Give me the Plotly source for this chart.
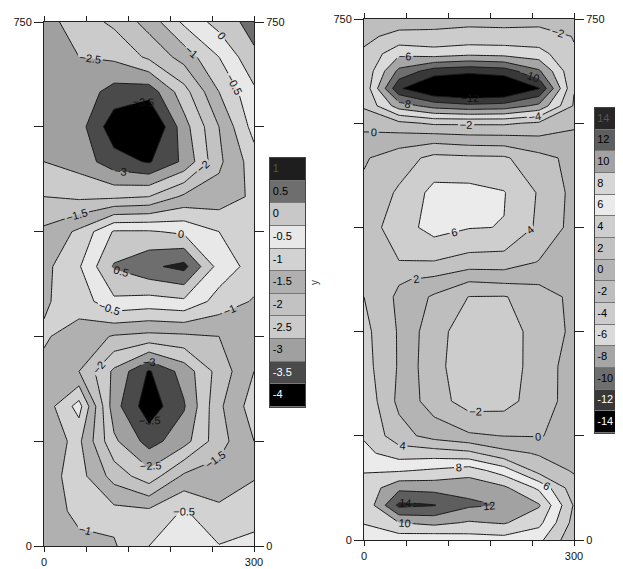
import plotly.graph_objects as go

# ---------------- data: left panel ----------------
x_left = [0, 50, 100, 150, 200, 250, 300]
y_left = [0, 50, 100, 150, 200, 250, 300, 350, 400, 450, 500, 550, 600, 650, 700, 750]
z_left = [
    [-1.10, -1.05, -1.05, -0.50, -0.20, -0.48, -0.40],   # y=0
    [-1.10, -0.95, -0.85, -0.90, -0.45, -0.90, -0.65],   # 50
    [-1.20, -0.80, -1.70, -2.30, -1.40, -1.30, -1.05],   # 100
    [-1.20, -0.90, -2.40, -3.20, -2.70, -1.70, -1.00],   # 150
    [-1.30, -0.30, -2.80, -3.80, -3.05, -1.60, -0.75],   # 200
    [-1.10, -1.50, -2.60, -3.55, -2.80, -1.80, -1.00],   # 250
    [-0.95, -1.20, -1.55, -1.65, -1.60, -1.50, -1.10],   # 300
    [-1.05, -0.80, -0.10, -0.20, -0.10, -0.70, -1.05],   # 350
    [-1.15, -0.55, 0.55, 0.90, 1.15, -0.20, -0.70],      # 400
    [-1.40, -0.90, 0.05, 0.05, -0.10, -0.50, -0.80],     # 450
    [-2.00, -2.10, -2.10, -2.00, -1.40, -1.30, -0.90],   # 500
    [-2.50, -2.70, -3.30, -3.55, -2.90, -1.60, -0.75],   # 550
    [-2.60, -2.80, -3.80, -4.20, -2.70, -1.50, -0.30],   # 600
    [-2.60, -2.70, -3.20, -3.30, -2.20, -1.00, -0.10],   # 650
    [-2.60, -2.50, -2.40, -1.90, -1.30, -0.50, 0.40],    # 700
    [-2.70, -2.25, -1.90, -1.30, -0.40, 0.20, 0.70],     # 750
]
left_bands = [-4, -3.5, -3, -2.5, -2, -1.5, -1, -0.5, 0, 0.5, 1]
left_colors = ['#000000', '#4a4a4a', '#a0a0a0', '#cbcbcb', '#c2c2c2', '#b0b0b0',
               '#d2d2d2', '#e8e8e8', '#c8c8c8', '#6e6e6e', '#1e1e1e']
left_text_colors = ['white', 'white', 'black', 'black', 'black', 'black',
                    'black', 'black', 'black', 'black', '#555555']

# ---------------- data: right panel ----------------
x_right = [0, 50, 100, 150, 200, 250, 300]
y_right = [0, 25, 50, 75, 100, 125, 150, 200, 250, 300, 350, 375, 400, 450,
           500, 550, 575, 600, 625, 650, 675, 700, 725, 750]
z_right = [
    [7.0, 6.8, 6.5, 7.0, 7.2, 6.5, 2.5],          # y=0
    [8.1, 10.0, 10.6, 9.8, 10.2, 8.6, 3.3],       # 25
    [8.2, 14.5, 14.1, 12.3, 11.9, 10.2, 3.8],     # 50
    [8.6, 11.5, 11.3, 11.5, 10.4, 7.6, 2.8],      # 75
    [7.9, 7.8, 8.3, 9.0, 7.0, 3.2, 1.8],          # 100
    [6.5, 5.0, 5.0, 4.5, 2.6, 1.8, 1.2],          # 125
    [5.8, 2.8, 1.2, 0.3, -0.05, -0.1, 0.6],       # 150
    [5.5, 1.5, -1.0, -3.0, -2.8, -0.9, 0.8],      # 200
    [4.8, 1.8, -1.5, -3.0, -2.7, -1.4, 1.2],      # 250
    [4.6, 1.8, -1.3, -3.0, -2.6, -1.5, 0.5],      # 300
    [4.0, 1.6, -0.3, -2.05, -2.1, -1.2, 0.6],     # 350
    [3.4, 2.2, 1.6, 0.3, 0.6, 0.5, 0.5],          # 375
    [3.0, 3.95, 3.9, 3.2, 3.1, 1.9, 0.8],         # 400
    [3.0, 5.0, 6.8, 6.1, 5.95, 3.6, 1.3],         # 450
    [2.4, 4.3, 6.6, 6.6, 6.1, 3.8, 1.4],          # 500
    [1.8, 3.0, 4.6, 4.4, 4.3, 2.6, 1.5],          # 550
    [1.0, 1.2, 1.5, 1.1, 1.0, 0.6, 0.5],          # 575
    [-1.0, -1.5, -2.3, -2.3, -2.3, -1.7, -0.3],   # 600
    [-2.2, -7.0, -8.8, -9.5, -9.2, -7.5, -1.8],   # 625
    [-2.4, -11.7, -14.5, -15.2, -14.8, -12.1, -2.1],  # 650
    [-2.4, -8.5, -11.0, -11.5, -11.0, -8.3, -2.2],    # 675
    [-2.2, -5.6, -5.0, -5.5, -5.3, -4.8, -2.1],   # 700
    [-1.7, -2.4, -2.4, -2.6, -2.6, -2.6, -1.95],  # 725
    [-1.2, -1.3, -1.4, -1.5, -1.4, -1.5, -1.5],   # 750
]
right_bands = [-14, -12, -10, -8, -6, -4, -2, 0, 2, 4, 6, 8, 10, 12, 14]
right_colors = ['#000000', '#383838', '#6e6e6e', '#a6a6a6', '#dadada', '#cccccc',
                '#bebebe', '#b4b4b4', '#c2c2c2', '#cecece', '#ebebeb', '#d6d6d6',
                '#a2a2a2', '#5e5e5e', '#262626']
right_text_colors = ['white', 'white', 'black', 'black', 'black', 'black', 'black',
                     'black', 'black', 'black', 'black', 'black', 'black', 'black',
                     '#555555']

x_ticks = [0, 60, 120, 180, 240, 300]
x_ticktext = ['0', '', '', '', '', '300']
y_ticks = [0, 150, 300, 450, 600, 750]
y_ticktext = ['0', '', '', '', '', '750']

# ---------------- layout helpers ----------------
# the page body has an 8px margin, so the figure is drawn 8px in from the corner
OFF = 8
W, H = 623 - OFF, 569 - OFF
FONT = 'Liberation Sans, Arial, sans-serif'


def fx(px):
    return min(1.0, max(0.0, (px - OFF) / W))


def fy(py):
    return min(1.0, max(0.0, 1 - (py - OFF) / H))


def discrete_scale(colors):
    n = len(colors) - 1
    return [[k / n, c] for k, c in enumerate(colors)]


fig = go.Figure()

# contour panels
fig.add_trace(go.Contour(
    x=x_left, y=y_left, z=z_left, xaxis='x', yaxis='y',
    colorscale=discrete_scale(left_colors), showscale=False,
    autocontour=False,
    contours=dict(start=-3.5, end=1.0, size=0.5, coloring='fill', showlabels=True,
                  labelfont=dict(size=11, color='#111111', family=FONT)),
    line=dict(color='#1a1a1a', width=1, smoothing=0),
    hoverinfo='skip'))

fig.add_trace(go.Contour(
    x=x_right, y=y_right, z=z_right, xaxis='x2', yaxis='y2',
    colorscale=discrete_scale(right_colors), showscale=False,
    autocontour=False,
    contours=dict(start=-12, end=14, size=2, coloring='fill', showlabels=True,
                  labelfont=dict(size=11, color='#111111', family=FONT)),
    line=dict(color='#1a1a1a', width=1, smoothing=0),
    hoverinfo='skip'))

# invisible carriers so the right-hand y axes are drawn
fig.add_trace(go.Scatter(x=[0], y=[0], mode='markers', marker=dict(opacity=0),
                         xaxis='x', yaxis='y3', hoverinfo='skip', showlegend=False))
fig.add_trace(go.Scatter(x=[0], y=[0], mode='markers', marker=dict(opacity=0),
                         xaxis='x2', yaxis='y4', hoverinfo='skip', showlegend=False))

# legend boxes (discrete colour keys)
nL = len(left_bands)
fig.add_trace(go.Heatmap(
    z=[[i] for i in range(nL)], x=[0], y=list(range(nL)),
    colorscale=discrete_scale(left_colors), zmin=0, zmax=nL - 1,
    showscale=False, ygap=1, xaxis='x3', yaxis='y5', hoverinfo='skip'))
fig.add_trace(go.Scatter(
    x=[-0.42] * nL, y=list(range(nL)), mode='text',
    text=['{:g}'.format(v) for v in left_bands], textposition='middle right',
    textfont=dict(size=11, color=left_text_colors, family=FONT),
    xaxis='x3', yaxis='y5', hoverinfo='skip', showlegend=False))

nR = len(right_bands)
fig.add_trace(go.Heatmap(
    z=[[i] for i in range(nR)], x=[0], y=list(range(nR)),
    colorscale=discrete_scale(right_colors), zmin=0, zmax=nR - 1,
    showscale=False, ygap=1, xaxis='x4', yaxis='y6', hoverinfo='skip'))
fig.add_trace(go.Scatter(
    x=[-0.42] * nR, y=list(range(nR)), mode='text',
    text=['{:g}'.format(v) for v in right_bands], textposition='middle right',
    textfont=dict(size=11, color=right_text_colors, family=FONT),
    xaxis='x4', yaxis='y6', hoverinfo='skip', showlegend=False))

tickfont = dict(size=11, color='#111111', family=FONT)


def xax(domain, anchor, standoff):
    return dict(domain=domain, anchor=anchor, range=[0, 300], tickvals=x_ticks,
                ticktext=x_ticktext, ticks='outside', ticklen=5, tickcolor='#222',
                showline=True, linecolor='#222', linewidth=1, mirror='ticks',
                showgrid=False, zeroline=False, tickfont=tickfont,
                ticklabelstandoff=standoff, automargin=False)


def yax(domain, anchor):
    return dict(domain=domain, anchor=anchor, range=[0, 750], tickvals=y_ticks,
                ticktext=y_ticktext, ticks='outside', ticklen=9, tickcolor='#222',
                showline=True, linecolor='#222', linewidth=1, mirror=True,
                showgrid=False, zeroline=False, tickfont=tickfont, automargin=False)


def yax_right(over, anchor):
    return dict(overlaying=over, anchor=anchor, side='right', range=[0, 750],
                tickvals=y_ticks, ticktext=y_ticktext, ticks='outside', ticklen=9,
                tickcolor='#222', showline=False, showgrid=False, zeroline=False,
                tickfont=tickfont, automargin=False)


def keyax(domain, anchor, rng):
    return dict(domain=domain, anchor=anchor, range=rng, showticklabels=False,
                ticks='', showgrid=False, zeroline=False, showline=True,
                mirror=True, linecolor='#444', linewidth=1, fixedrange=True,
                automargin=False)


fig.update_layout(
    template='none',
    width=W, height=H, autosize=False,
    margin=dict(l=0, r=0, t=0, b=0, pad=0, autoexpand=False),
    paper_bgcolor='white', plot_bgcolor='#777777',
    showlegend=False,
    font=dict(family=FONT, color='#111'),
    xaxis=xax([fx(44), fx(254)], 'y', 1),
    yaxis=yax([fy(546), fy(22)], 'x'),
    yaxis3=yax_right('y', 'x'),
    xaxis2=xax([fx(364), fx(574)], 'y2', 1),
    yaxis2=yax([fy(540), fy(19)], 'x2'),
    yaxis4=yax_right('y2', 'x2'),
    xaxis3=keyax([fx(270), fx(305)], 'y5', [-0.5, 0.5]),
    yaxis5=keyax([fy(407), fy(158)], 'x3', [-0.5, nL - 0.5]),
    xaxis4=keyax([fx(595), 1.0], 'y6', [-0.5, 0.5]),
    yaxis6=keyax([fy(433), fy(108)], 'x4', [-0.5, nR - 0.5]),
    annotations=[dict(text='y', x=fx(314), y=fy(283), xref='paper', yref='paper',
                      showarrow=False, textangle=-90,
                      font=dict(size=10, color='#444', family=FONT))],
)

fig.write_html('out.html')
